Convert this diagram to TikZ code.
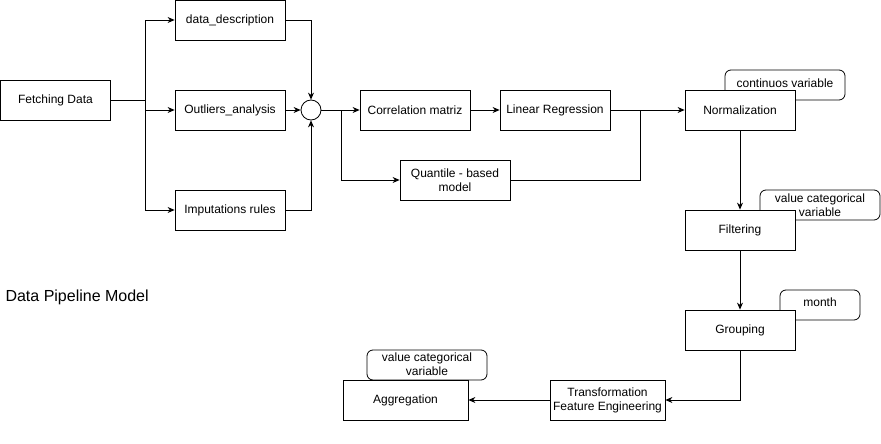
\documentclass[tikz,border=0pt]{standalone}
\usepackage{fontspec}
\setmainfont{Liberation Sans}
\usetikzlibrary{arrows.meta,positioning}
\tikzstyle{arrow} = [line width=0.8pt,-{Stealth[length=7pt,width=6pt]}]
\tikzstyle{line} = [line width=0.8pt]
\tikzstyle{block} = [rectangle, draw, fill=white, line width=0.8pt, minimum width=110pt, minimum height=40pt, inner sep=1pt, align=center, font=\fontsize{12}{14}\selectfont]
\tikzstyle{note} = [rectangle, draw, fill=white, line width=0.8pt, rounded corners=6pt, minimum width=120pt, minimum height=30pt, inner sep=1pt, align=center, font=\fontsize{12}{14}\selectfont]

\begin{document}
\begin{tikzpicture}[x=1pt, y=-1pt]
    \useasboundingbox (0,0) rectangle (881,444);

    % Notes (behind the blocks)
    \node[note] (notecont) at (785,85) {};
    \node[font=\fontsize{12}{14}\selectfont] at (785,83) {continuos variable};
    \node[note] (notecat) at (820,205) {};
    \node[font=\fontsize{12}{14}\selectfont, align=center] at (820,205) {value categorical\\variable};
    \node[note, minimum width=80pt] (notemonth) at (820,305) {};
    \node[font=\fontsize{12}{14}\selectfont] at (820,302) {month};
    \node[note] (noteagg) at (427,365) {};
    \node[font=\fontsize{12}{14}\selectfont, align=center] at (427,364) {value categorical\\variable};

    % Preparation
    \node[block] (fetch) at (55.5,100) {Fetching Data};
    \node[block] (desc) at (230,20) {data\_description};
    \node[block] (outl) at (230,110) {Outliers\_analysis};
    \node[block] (imput) at (230,210) {Imputations rules};
    \node[circle, draw, line width=0.8pt, minimum size=20pt, inner sep=0pt] (junction) at (311,110) {};

    % Models
    \node[block] (corr) at (415,110) {Correlation matriz};
    \node[block] (linreg) at (555,110) {Linear Regression};
    \node[block] (quant) at (455,180) {Quantile - based\\model};

    % Processing
    \node[block] (norm) at (740,110) {Normalization};
    \node[block] (filt) at (740,230) {Filtering};
    \node[block] (group) at (740,330) {Grouping};
    \node[block, minimum width=115pt] (transf) at (607.5,400) {Transformation\\Feature Engineering};
    \node[block, minimum width=125pt] (aggr) at (405.5,400) {Aggregation};

    \node[font=\fontsize{16}{19}\selectfont, anchor=west] (title) at (2,297) {Data Pipeline Model};

    % Connectors
    \coordinate (split) at (145,100);
    \draw[line] (fetch.east) -- (split);
    \draw[arrow] (split) |- (desc.west);
    \draw[arrow] (split) |- (outl.west);
    \draw[arrow] (split) |- (imput.west);
    \draw[arrow] (desc.east) -| (junction.north);
    \draw[arrow] (outl.east) -- (junction.west);
    \draw[arrow] (imput.east) -| (junction.south);
    \draw[arrow] (junction.east) -- (corr.west);
    \coordinate (branch) at (341,110);
    \draw[arrow] (branch) |- (quant.west);
    \draw[arrow] (corr) -- (linreg);
    \draw[arrow] (linreg) -- (norm);
    \coordinate (merge) at (640,110);
    \draw[line] (quant.east) -| (merge);
    \draw[arrow] (norm) -- (filt);
    \draw[arrow] (filt) -- (group);
    \draw[arrow] (group.south) |- (transf.east);
    \draw[arrow] (transf) -- (aggr);
\end{tikzpicture}
\end{document}
